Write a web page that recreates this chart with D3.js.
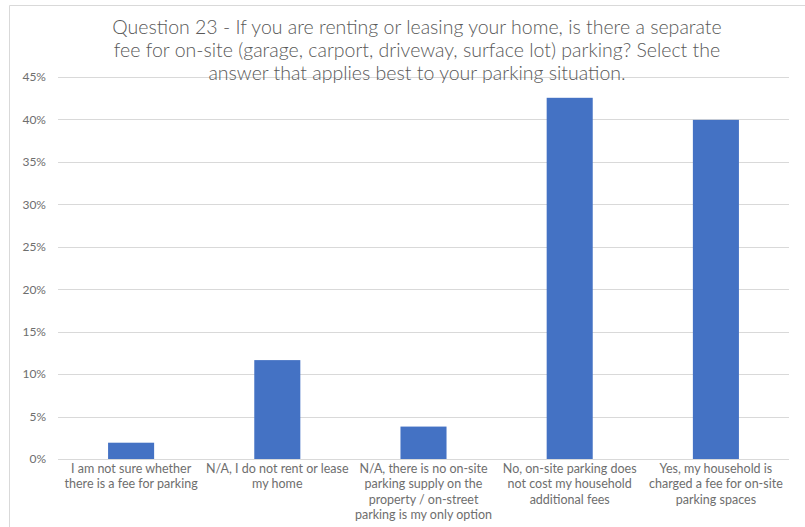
<!DOCTYPE html>
<html><head><meta charset="utf-8">
<script src="https://cdn.jsdelivr.net/npm/d3@7"></script>
<style>body{margin:0;background:#fff;}svg{display:block;}</style>
</head><body>
<svg id="chart" width="805" height="527"></svg>
<script>
const categories = [
  ["I am not sure whether", "there is a fee for parking"],
  ["N/A, I do not rent or lease", "my home"],
  ["N/A, there is no on-site", "parking supply on the", "property / on-street", "parking is my only option"],
  ["No, on-site parking does", "not cost my household", "additional fees"],
  ["Yes, my household is", "charged a fee for on-site", "parking spaces"]
];
const values = [0.0192, 0.1165, 0.0382, 0.4255, 0.3995];
const yTicks = [0, 0.05, 0.10, 0.15, 0.20, 0.25, 0.30, 0.35, 0.40, 0.45];
const titleLines = [
  "Question 23 - If you are renting or leasing your home, is there a separate",
  "fee for on-site (garage, carport, driveway, surface lot) parking? Select the",
  "answer that applies best to your parking situation."
];

(function(){
const svg = d3.select("#chart");
const pLeft = 58, pRight = 789, pTop = 77, pBottom = 459;

// border
svg.append("path").attr("d", "M9.5,527 V5.5 H805").attr("fill","none")
  .attr("stroke","#d9d9d9").attr("stroke-width",1);

const x = d3.scaleBand().domain(d3.range(categories.length)).range([pLeft, pRight])
  .paddingInner(0.685).paddingOuter(0.3425);
const y = d3.scaleLinear().domain([0, 0.45]).range([pBottom, pTop]);

// gridlines
svg.append("g").selectAll("line").data(yTicks).join("line")
  .attr("x1", pLeft).attr("x2", pRight)
  .attr("y1", d => Math.round(y(d)) + 0.5).attr("y2", d => Math.round(y(d)) + 0.5)
  .attr("stroke", "#d9d9d9").attr("stroke-width", 1);

// y axis labels
const yAxis = d3.axisLeft(y).tickValues(yTicks).tickFormat(d3.format(".0%")).tickSize(0).tickPadding(0);
const gy = svg.append("g").attr("transform", `translate(${pLeft-12},0)`).call(yAxis);
gy.select(".domain").remove();
gy.selectAll("text").attr("fill", "#6e6e6e").attr("font-family", "Lato, 'Open Sans', sans-serif")
  .attr("font-size", 12);

// bars
svg.append("g").selectAll("rect").data(values).join("rect")
  .attr("x", (d,i) => x(i)).attr("width", x.bandwidth())
  .attr("y", d => y(d)).attr("height", d => pBottom - y(d))
  .attr("fill", "#4472C4");

// category labels
const gx = svg.append("g");
categories.forEach((lines, i) => {
  const t = gx.append("text").attr("text-anchor", "middle")
    .attr("fill", "#6e6e6e").attr("font-family", "Lato, 'Open Sans', sans-serif")
    .attr("font-size", 12.5);
  lines.forEach((ln, j) => {
    t.append("tspan").attr("x", x(i) + x.bandwidth()/2).attr("y", 473 + j*15.3).text(ln);
  });
});

// title
const tt = svg.append("text").attr("text-anchor", "middle").attr("fill", "#595959")
  .attr("font-family", "Lato, 'Open Sans', sans-serif").attr("font-weight", 300).attr("font-size", 19.5);
titleLines.forEach((ln, j) => {
  tt.append("tspan").attr("x", 417).attr("y", 34 + j*23).text(ln);
});
})();
</script>
</body></html>
